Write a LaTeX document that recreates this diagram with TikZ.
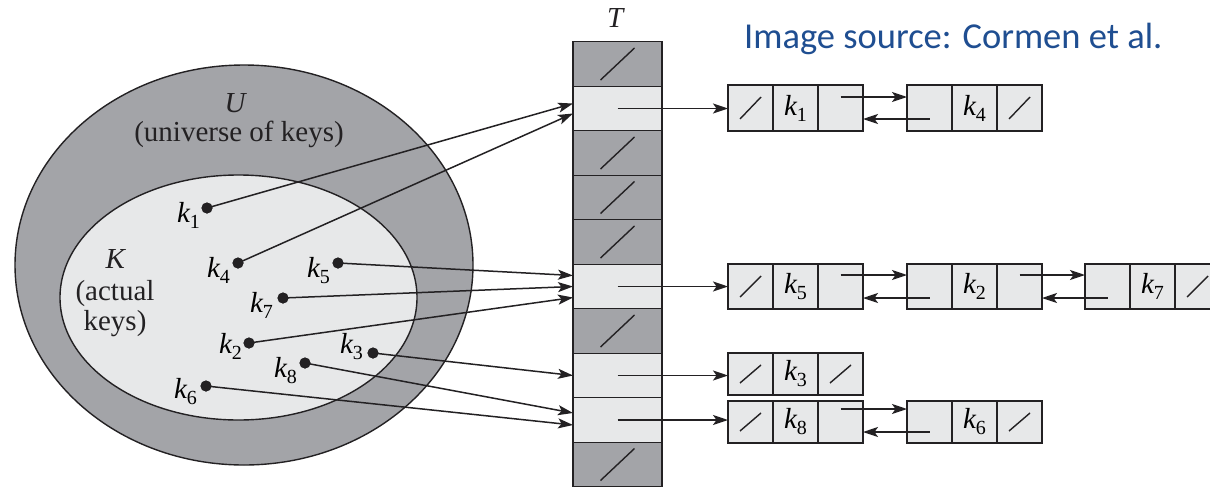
\documentclass[tikz,border=0pt]{standalone}
\usepackage{fontspec}
\setmainfont{Liberation Serif}
\newfontfamily\srcfont{Carlito}
\usetikzlibrary{calc,arrows.meta}
\definecolor{darkc}{RGB}{163,164,168}
\definecolor{lightc}{RGB}{231,232,233}
\definecolor{linec}{RGB}{35,33,35}
\definecolor{srcblue}{RGB}{31,78,145}
\newcommand\kk[1]{\textit{k}\kern-0.5pt\raisebox{-6pt}{\fontsize{20}{20}\selectfont #1}}
\newcommand\lelem[5]{%
  \node[cellbox, minimum height=#4, anchor=west] (#1a) at (#2,#3) {};
  \node[cellbox, minimum height=#4, anchor=west] (#1b) at (#1a.east) {#5};
  \node[cellbox, minimum height=#4, anchor=west] (#1c) at (#1b.east) {};
}
\tikzset{
  ptr/.style={draw=linec, line width=1.5pt, -{Stealth[length=15pt,width=10pt,inset=3.5pt]}},
  slashln/.style={draw=linec, line width=1.4pt},
  cellbox/.style={draw=linec, fill=lightc, line width=1.4pt, minimum width=45pt, inner sep=0pt, outer sep=0pt, font=\fontsize{29}{29}\selectfont},
  tcell/.style={draw=linec, line width=1.4pt, minimum width=89pt, minimum height=44.5pt, inner sep=0pt, outer sep=0pt},
  ell/.style={draw=linec, line width=1.4pt},
  dot/.style={circle, fill=linec, inner sep=0pt, minimum size=11pt},
  keylab/.style={anchor=base east, inner sep=0pt, font=\fontsize{29}{29}\selectfont},
  txt/.style={inner sep=0pt, font=\fontsize{29}{29}\selectfont, text=linec}
}
\begin{document}
\begin{tikzpicture}[x=1pt, y=-1pt]
\useasboundingbox (0,0) rectangle (1210,488);
\clip (0,0) rectangle (1210,488);
\fill[white] (0,0) rectangle (1210,488);

% ellipses
\draw[ell, fill=darkc] (244,265) ellipse [x radius=229, y radius=200];
\draw[ell, fill=lightc] (238.5,297.5) ellipse [x radius=178.5, y radius=122.5];

\node[txt, anchor=base] (ulab) at (236,112) {\textit{U}};
\node[txt, anchor=base] (ulab2) at (239,141) {(universe of keys)};
\node[txt, anchor=base] (klab) at (116,268) {\textit{K}};
\node[txt, anchor=base] (klab2) at (115,300) {(actual};
\node[txt, anchor=base] (klab3) at (115,330) {keys)};

% table T
\node[txt, anchor=base] (tlab) at (616,27) {\textit{T}};
\foreach \i/\c in {0/darkc,1/lightc,2/darkc,3/darkc,4/darkc,5/lightc,6/darkc,7/lightc,8/lightc,9/darkc}{
  \node[tcell, fill=\c] (t\i) at (617.5,{64+44.5*\i}) {};
}
\foreach \i in {0,2,3,4,6,9}{
  \draw[slashln] ($(t\i.center)+(-17,16)$) -- ($(t\i.center)+(17,-16)$);
}

% key dots
\node[dot] (d1) at (207,208) {};
\node[dot] (d4) at (238,263) {};
\node[dot] (d5) at (338,263) {};
\node[dot] (d7) at (283,298) {};
\node[dot] (d2) at (249,343) {};
\node[dot] (d3) at (373,353) {};
\node[dot] (d8) at (305,363) {};
\node[dot] (d6) at (206,386) {};
\node[keylab] (l1) at ($(d1)+(-7,14)$) {\kk{1}};
\node[keylab] (l4) at ($(d4)+(-8,14)$) {\kk{4}};
\node[keylab] (l5) at ($(d5)+(-8,14)$) {\kk{5}};
\node[keylab] (l7) at ($(d7)+(-10,14)$) {\kk{7}};
\node[keylab] (l2) at ($(d2)+(-7,10)$) {\kk{2}};
\node[keylab] (l3) at ($(d3)+(-10,0)$) {\kk{3}};
\node[keylab] (l8) at ($(d8)+(-8,14)$) {\kk{8}};
\node[keylab] (l6) at ($(d6)+(-9,12)$) {\kk{6}};

% key -> slot arrows
\draw[ptr] (d1.center) -- ($(t1.west)+(0,-5)$);
\draw[ptr] (d4.center) -- ($(t1.west)+(0,5)$);
\draw[ptr] (d5.center) -- ($(t5.west)+(0,-11)$);
\draw[ptr] (d7.center) -- ($(t5.west)+(0,0)$);
\draw[ptr] (d2.center) -- ($(t5.west)+(0,11)$);
\draw[ptr] (d3.center) -- ($(t7.west)+(0,0)$);
\draw[ptr] (d8.center) -- ($(t8.west)+(0,-7)$);
\draw[ptr] (d6.center) -- ($(t8.west)+(0,5)$);
\foreach \n in {d1,d4,d5,d7,d2,d3,d8,d6}{\fill[linec] (\n) circle (5.5);}

% lists
\lelem{p}{728}{108}{46}{\kk{1}}
\lelem{q}{907}{108}{46}{\kk{4}}
\lelem{r}{728}{286.5}{45}{\kk{5}}
\lelem{s}{907}{286.5}{45}{\kk{2}}
\lelem{u}{1085}{286.5}{45}{\kk{7}}
\lelem{v}{728}{374}{42}{\kk{3}}
\lelem{w}{728}{422}{42}{\kk{8}}
\lelem{x}{907}{422}{42}{\kk{6}}

\foreach \n in {pa,qc,ra,uc,va,vc,wa,xc}{
  \draw[slashln] ($(\n.south west)+(12,-12)$) -- ($(\n.north east)+(-12,12)$);
}

% slot -> list pointers
\draw[ptr] (t1.center) -- (t1.center -| pa.west);
\draw[ptr] (t5.center) -- (t5.center -| ra.west);
\draw[ptr] (t7.center) -- (t7.center -| va.west);
\draw[ptr] (t8.center) -- (t8.center -| wa.west);

% next / prev arrows
\draw[ptr] ($(pc.north)+(0,12)$) -- ($(qa.north west)+(0,12)$);
\draw[ptr] ($(qa.south)+(0,-12)$) -- ($(pc.south east)+(0,-12)$);
\draw[ptr] ($(rc.north)+(0,11)$) -- ($(sa.north west)+(0,11)$);
\draw[ptr] ($(sa.south)+(0,-11)$) -- ($(rc.south east)+(0,-11)$);
\draw[ptr] ($(sc.north)+(0,11)$) -- ($(ua.north west)+(0,11)$);
\draw[ptr] ($(ua.south)+(0,-11)$) -- ($(sc.south east)+(0,-11)$);
\draw[ptr] ($(wc.north)+(0,8)$) -- ($(xa.north west)+(0,8)$);
\draw[ptr] ($(xa.south)+(0,-11)$) -- ($(wc.south east)+(0,-11)$);

% source note
\node[anchor=base west, inner sep=0pt, text=srcblue, font=\srcfont\fontsize{36.5}{36.5}\selectfont] (src) at (744,48) {Image source: Cormen et al.};
\end{tikzpicture}
\end{document}
